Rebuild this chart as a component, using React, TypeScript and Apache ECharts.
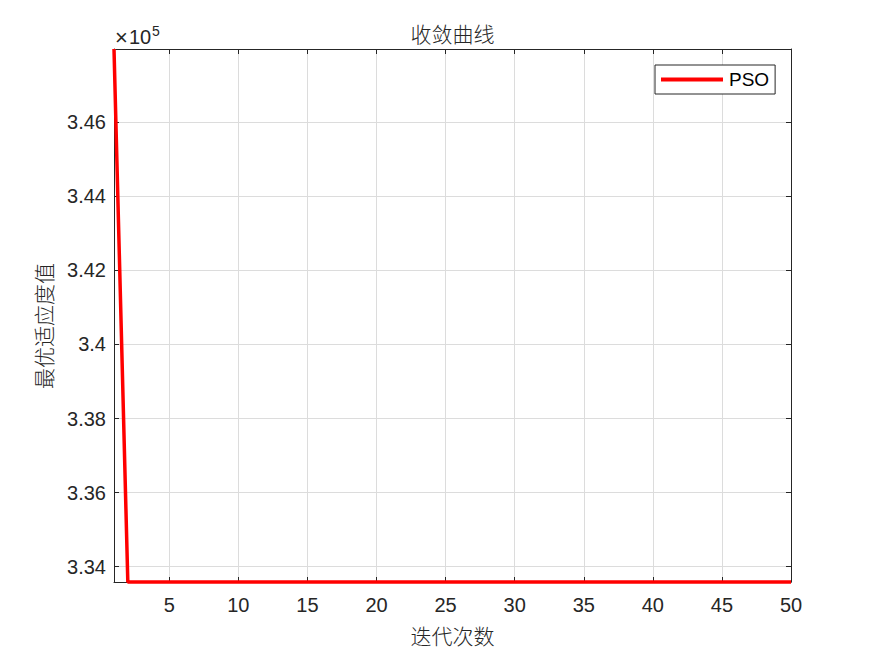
import React, { useEffect, useRef } from "react";
import * as echarts from "echarts";

const iterations: number[] = [
  1, 2, 3, 4, 5, 6, 7, 8, 9, 10, 11, 12, 13, 14, 15, 16, 17, 18, 19, 20, 21, 22, 23, 24, 25,
  26, 27, 28, 29, 30, 31, 32, 33, 34, 35, 36, 37, 38, 39, 40, 41, 42, 43, 44, 45, 46, 47, 48, 49, 50,
];
const psoValues: number[] = [
  347979, 333587, 333587, 333587, 333587, 333587, 333587, 333587, 333587, 333587,
  333587, 333587, 333587, 333587, 333587, 333587, 333587, 333587, 333587, 333587,
  333587, 333587, 333587, 333587, 333587, 333587, 333587, 333587, 333587, 333587,
  333587, 333587, 333587, 333587, 333587, 333587, 333587, 333587, 333587, 333587,
  333587, 333587, 333587, 333587, 333587, 333587, 333587, 333587, 333587, 333587,
];
const xTicks: number[] = [5, 10, 15, 20, 25, 30, 35, 40, 45, 50];
const yTicks: number[] = [334000, 336000, 338000, 340000, 342000, 344000, 346000];
const xMin = 1;
const xMax = 50;
const yMin = 333587;
const yMax = 347979;

const titleText = "收敛曲线";
const xName = "迭代次数";
const yName = "最优适应度值";
const seriesName = "PSO";

const CJK = '"Noto Sans CJK SC", sans-serif';
const LAT = '"Liberation Sans", Arial, sans-serif';
const AX = "#262626";

export default function App() {
  const ref = useRef<HTMLDivElement>(null);
  useEffect(() => {
    if (!ref.current) return;
    const chart = echarts.init(ref.current, undefined, { renderer: "svg" });
    const data = iterations.map((x, i) => [x, psoValues[i]]);
    const tickCommon = { show: true, inside: true, length: 5, lineStyle: { color: AX, width: 1 } };
    chart.setOption({
      animation: false,
      backgroundColor: "#ffffff",
      grid: { left: 114, right: 84, top: 49, bottom: 74, containLabel: false },
      xAxis: [
        {
          type: "value",
          min: xMin,
          max: xMax,
          axisLine: { show: true, onZero: false, lineStyle: { color: AX, width: 1 } },
          axisTick: { ...tickCommon, customValues: xTicks },
          axisLabel: {
            customValues: xTicks,
            color: AX,
            fontFamily: LAT,
            fontSize: 20,
            margin: 13,
          },
          splitLine: { show: true, lineStyle: { color: "#dcdcdc", width: 1 } },
        },
        {
          type: "value",
          position: "top",
          min: xMin,
          max: xMax,
          axisLine: { show: true, onZero: false, lineStyle: { color: AX, width: 1 } },
          axisTick: { ...tickCommon, customValues: xTicks },
          axisLabel: { show: false },
          splitLine: { show: false },
        },
      ],
      yAxis: [
        {
          type: "value",
          min: yMin,
          max: yMax,
          axisLine: { show: true, onZero: false, lineStyle: { color: AX, width: 1 } },
          axisTick: { ...tickCommon, customValues: yTicks },
          axisLabel: {
            customValues: yTicks,
            color: AX,
            fontFamily: LAT,
            fontSize: 20,
            margin: 8,
            formatter: (v: number) => String(+(v / 1e5).toFixed(2)),
          },
          splitLine: { show: true, lineStyle: { color: "#dcdcdc", width: 1 } },
        },
        {
          type: "value",
          position: "right",
          min: yMin,
          max: yMax,
          axisLine: { show: true, onZero: false, lineStyle: { color: AX, width: 1 } },
          axisTick: { ...tickCommon, customValues: yTicks },
          axisLabel: { show: false },
          splitLine: { show: false },
        },
      ],
      legend: {
        data: [seriesName],
        left: 655,
        top: 65,
        orient: "vertical",
        icon: "rect",
        itemWidth: 62,
        itemHeight: 4,
        itemGap: 0,
        padding: [5, 6, 5, 6],
        borderColor: AX,
        borderWidth: 1,
        backgroundColor: "#ffffff",
        textStyle: { color: "#000", fontFamily: LAT, fontSize: 19, padding: [0, 0, 0, 1] },
      },
      series: [
        {
          name: seriesName,
          type: "line",
          data,
          xAxisIndex: 0,
          yAxisIndex: 0,
          showSymbol: false,
          symbol: "none",
          clip: false,
          lineStyle: { color: "#ff0000", width: 3.5 },
          itemStyle: { color: "#ff0000" },
          z: 5,
        },
      ],
      graphic: [
        {
          type: "text",
          x: 452.5,
          y: 32.5,
          style: { text: titleText, font: `300 21px ${CJK}`, fill: AX, textAlign: "center", textVerticalAlign: "middle" },
        },
        {
          type: "text",
          x: 452.5,
          y: 635,
          style: { text: xName, font: `300 21px ${CJK}`, fill: AX, textAlign: "center", textVerticalAlign: "middle" },
        },
        {
          type: "text",
          x: 43,
          y: 326,
          rotation: Math.PI / 2,
          style: { text: yName, font: `300 21px ${CJK}`, fill: AX, textAlign: "center", textVerticalAlign: "middle" },
        },
        {
          type: "text",
          x: 115,
          y: 37,
          style: { text: "×", font: `22px ${LAT}`, fill: AX, textAlign: "left", textVerticalAlign: "middle" },
        },
        {
          type: "text",
          x: 129,
          y: 37,
          style: { text: "10", font: `20px ${LAT}`, fill: AX, textAlign: "left", textVerticalAlign: "middle" },
        },
        {
          type: "text",
          x: 152,
          y: 31,
          style: { text: "5", font: `14px ${LAT}`, fill: AX, textAlign: "left", textVerticalAlign: "middle" },
        },
      ],
    });
    return () => chart.dispose();
  }, []);
  return <div ref={ref} style={{ width: 875, height: 656, position: "absolute", left: 0, top: 0 }} />;
}
